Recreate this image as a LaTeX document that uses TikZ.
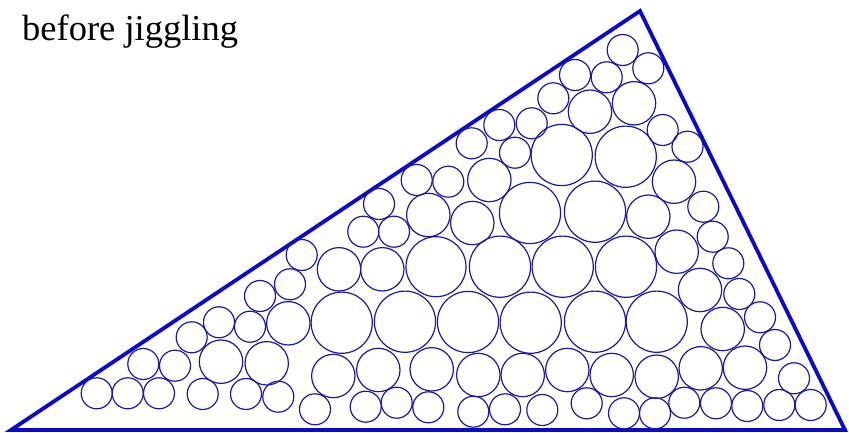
\documentclass[tikz,border=0pt]{standalone}
\usepackage{fontspec}
\setmainfont{Liberation Serif}
\usepackage{xcolor}
\definecolor{edgeblue}{RGB}{10,10,205}
\definecolor{discblue}{RGB}{25,25,165}
\usepackage{tikz}
\usetikzlibrary{positioning}

\begin{document}
\begin{tikzpicture}[x=1pt, y=-1pt,
      edge/.style={draw=edgeblue, line width=3.8pt, line join=miter},
      disc/.style={draw=discblue, line width=1.2pt},
      caption/.style={anchor=base west, inner sep=0pt, font=\fontsize{36.5}{40}\selectfont}
    ]
    \useasboundingbox (0,0) rectangle (849,433);
    \node[caption] (title) at (22,41) {before jiggling};
    \coordinate (west) at (11,430);
    \coordinate (apex) at (640,11);
    \coordinate (east) at (845,430);
    \draw[edge] (west) -- (apex) -- (east) -- cycle;
    \foreach \x/\y in {561.7/155,625.7/156.7,530/213,595/211.7,500/266.7,562.7/266.7,626/266.7,
                       341.7/322.7,405/321.7,468/322,530.7/322.7,595/321.7,656.7/321.7} { \draw[disc] (\x,\y) circle (30.6); }
    \draw[disc] (436,266.7) circle (30);
    \foreach \x/\y in {590/111.7,634/103.3,489.3/180,674/181.7,648.3/216.7,428.3/215,472.3/223,
                       339/269.3,382.3/269.3,676.7/251.7,700/290,722.7/329,288.3/323.3,221/361.7,266.7/363.3,
                       333.3/376,378.3/370,431.7/369.3,478.3/375,522.7/375,567.3/370,611.7/375,656.7/376.7,
                       700.7/368.3,745/367.7} { \draw[disc] (\x,\y) circle (21.7); }
    \foreach \x/\y in {622.7/50,648.3/68.3,606.7/77.3,575/75,553.3/98.3,499.3/125,531.7/123.3,515/152.7,
                       471.7/143.3,662.7/130,687.5/146.7,416.7/180,448.3/181.7,379/204,703.3/206.7,363.3/231.7,
                       394/231.7,712.7/236.7,728.3/263.3,301.7/255,290/284.3,260/296,739.3/294,760/317.3,
                       219/322.3,250/326.7,191.7/337.3,775/345,143.3/364,175/365.7,794/378.3,
                       96.7/393.3,127.7/393.3,159/393.3,202.7/394,246/394,278.3/396.7,315/409.3,365.7/406.7,
                       396.7/402.7,428.3/407.3,473.3/411.7,505/409.3,542.3/410,586.7/403.3,624/413.3,655/413.3,
                       684.3/402.7,716/403.3,747.3/406,779.3/405,810.7/405} { \draw[disc] (\x,\y) circle (15.5); }
  \end{tikzpicture}
\end{document}
